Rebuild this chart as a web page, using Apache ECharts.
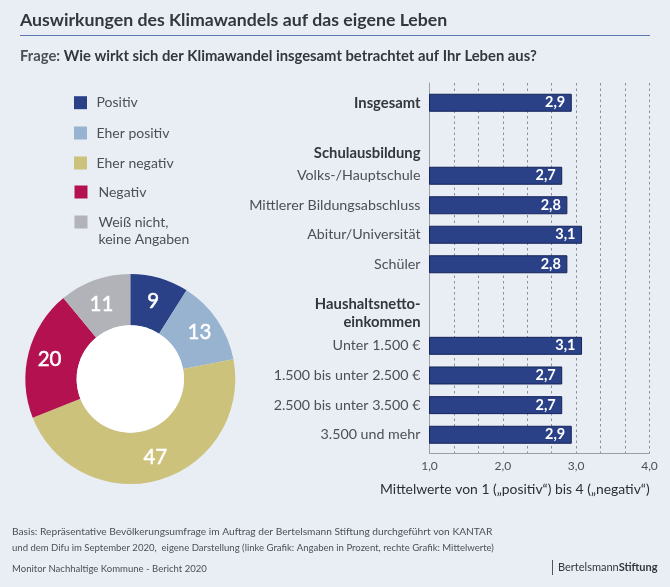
<!DOCTYPE html>
<html>
<head>
<meta charset="utf-8">
<title>Auswirkungen des Klimawandels</title>
<style>
html,body{margin:0;padding:0;background:#e9eef5}
#chart{width:670px;height:587px}
</style>
<script src="https://cdn.jsdelivr.net/npm/echarts@6/dist/echarts.min.js"></script>
</head>
<body>
<div id="chart"></div>
<script>
// Daten
var shareNames = ['Positiv', 'Eher positiv', 'Eher negativ', 'Negativ', 'Weiß nicht,\nkeine Angaben'];
var shareValues = [9, 13, 47, 20, 11];
var shareColors = ['#2a4087', '#97b3d0', '#cdc27c', '#b3114f', '#b1b3b8'];

var totalCats = ['Insgesamt'];
var totalLengths = [2.94];
var totalLabels = ['2,9'];

var schoolHead = 'Schulausbildung';
var schoolCats = ['Volks-/Hauptschule', 'Mittlerer Bildungsabschluss', 'Abitur/Universität', 'Schüler'];
// Balkenlaenge wie gezeichnet, Beschriftung wie gedruckt
var schoolLengths = [2.81, 2.88, 3.08, 2.88];
var schoolLabels = ['2,7', '2,8', '3,1', '2,8'];

var incomeHead = 'Haushaltsnetto-\neinkommen';
var incomeCats = ['Unter 1.500 €', '1.500 bis unter 2.500 €', '2.500 bis unter 3.500 €', '3.500 und mehr'];
var incomeLengths = [3.08, 2.81, 2.81, 2.94];
var incomeLabels = ['3,1', '2,7', '2,7', '2,9'];

var axisMin = 1, axisMax = 4, axisStep = 1 / 3;

var FONT = 'Lato, "Noto Sans", sans-serif';
var TEXT = '#4b5056';
var DARK = '#33373c';
var barLeft = 429.5, barWidth = 220;

var chart = echarts.init(document.getElementById('chart'));

function hiddenX(i) {
	return { gridIndex: i, type: 'value', min: axisMin, max: axisMax, show: false };
}
function catY(i, cats, bold) {
	return {
		gridIndex: i, type: 'category', inverse: true, data: cats,
		axisLine: { show: false }, axisTick: { show: false }, splitLine: { show: false },
		axisLabel: { color: bold ? DARK : TEXT, fontFamily: FONT, fontSize: bold ? 14.8 : 14.25, fontWeight: bold ? 'bold' : 'normal', margin: 9 }
	};
}
function bars(i, lengths, labels) {
	return {
		type: 'bar', xAxisIndex: i, yAxisIndex: i, data: lengths, barWidth: 18, silent: true,
		itemStyle: { color: '#2a4087', borderColor: '#16255a', borderWidth: 1 },
		label: {
			show: true, position: 'insideRight', distance: 6.5, color: '#fff', fontFamily: FONT,
			fontSize: 14.5, fontWeight: 'bold',
			formatter: function(p) { return labels[p.dataIndex]; }
		}
	};
}

// Legende links
var legendY = [102.7, 133, 163, 192, 222];
var legendX = [74, 74, 74, 74.5, 74.5];
var textX = [96.5, 96.5, 96.5, 98.5, 98.5];
var graphics = [];
shareNames.forEach(function(name, i) {
	graphics.push({ type: 'rect', shape: { x: legendX[i], y: legendY[i] - 6.5, width: 13, height: 13 }, style: { fill: shareColors[i] } });
	graphics.push({ type: 'text', x: textX[i], y: legendY[i] - 8.5, style: {
		text: name, fill: TEXT, font: '14px ' + FONT, lineHeight: 17, textVerticalAlign: 'top'
	} });
});

function addText(x, y, text, font, fill, align) {
	graphics.push({ type: 'text', x: x, y: y, style: { text: text, font: font, fill: fill, textAlign: align || 'left', textVerticalAlign: 'middle' } });
}
addText(420.5, 153, schoolHead, 'bold 14.8px ' + FONT, DARK, 'right');
graphics.push({ type: 'text', x: 420.5, y: 295.5, style: { text: incomeHead, font: 'bold 14.8px ' + FONT, fill: DARK, textAlign: 'right', lineHeight: 18 } });
addText(380, 490, 'Mittelwerte von 1 („positiv“) bis 4 („negativ“)', '13.9px ' + FONT, '#2b2f33');

// Kopf und Fuss
graphics.push({ type: 'rect', shape: { x: 20, y: 35, width: 630, height: 1 }, style: { fill: '#5c77ad' } });
addText(12, 532, 'Basis: Repräsentative Bevölkerungsumfrage im Auftrag der Bertelsmann Stiftung durchgeführt von KANTAR', '10.2px ' + FONT, TEXT);
addText(12, 548, 'und dem Difu im September 2020,  eigene Darstellung (linke Grafik: Angaben in Prozent, rechte Grafik: Mittelwerte)', '9.56px ' + FONT, TEXT);
addText(12, 569, 'Monitor Nachhaltige Kommune - Bericht 2020', '9.56px ' + FONT, TEXT);
graphics.push({ type: 'rect', shape: { x: 552, y: 560, width: 1, height: 15 }, style: { fill: '#555' } });
graphics.push({ type: 'text', x: 558, y: 567.5, style: {
	text: '{a|Bertelsmann}{b|Stiftung}', textVerticalAlign: 'middle',
	rich: { a: { font: '11px ' + FONT, fill: DARK }, b: { font: 'bold 11px ' + FONT, fill: DARK } }
} });

var pieLabelOffsets = [[0, 1], [1, 0], [2, -1], [-1, 1], [-1, 3]];

var option = {
	backgroundColor: '#e9eef5',
	animation: false,
	title: [{
		text: 'Auswirkungen des Klimawandels auf das eigene Leben',
		left: 15, top: 6.5,
		textStyle: { fontFamily: FONT, fontSize: 17.7, fontWeight: 'bold', color: DARK }
	}, {
		text: '{a|Frage: }{b|Wie wirkt sich der Klimawandel insgesamt betrachtet auf Ihr Leben aus?}',
		left: 15, top: 44,
		textStyle: { rich: {
			a: { fontFamily: FONT, fontSize: 14.8, color: TEXT },
			b: { fontFamily: FONT, fontSize: 14.8, fontWeight: 'bold', color: DARK }
		} }
	}],
	graphic: graphics,
	grid: [
		{ left: barLeft, width: barWidth, top: 83, height: 370 },
		{ left: barLeft, width: barWidth, top: 88, height: 29.5 },
		{ left: barLeft, width: barWidth, top: 161, height: 118 },
		{ left: barLeft, width: barWidth, top: 331, height: 118.6 }
	],
	xAxis: [{
		gridIndex: 0, type: 'value', min: axisMin, max: axisMax, interval: axisStep,
		axisLine: { show: true, lineStyle: { color: '#9a9ea5', width: 1 } },
		axisTick: { show: false },
		axisLabel: {
			color: TEXT, fontFamily: FONT, fontSize: 12, margin: 7,
			formatter: function(v) {
				return Math.abs(v - Math.round(v)) < 1e-6 ? Math.round(v) + ',0' : '';
			}
		},
		splitLine: { show: true, lineStyle: { color: '#8b8f96', type: [2.5, 3], width: 1 } }
	}, hiddenX(1), hiddenX(2), hiddenX(3)],
	yAxis: [{
		gridIndex: 0, type: 'category', data: [''],
		axisLine: { show: true, lineStyle: { color: '#9a9ea5', width: 1 } },
		axisTick: { show: false }, axisLabel: { show: false }
	}, catY(1, totalCats, true), catY(2, schoolCats), catY(3, incomeCats)],
	series: [
		bars(1, totalLengths, totalLabels),
		bars(2, schoolLengths, schoolLabels),
		bars(3, incomeLengths, incomeLabels),
		{
			type: 'pie', center: [130.3, 379], radius: [53.7, 105], startAngle: 90, silent: true,
			data: shareValues.map(function(v, i) {
				return { value: v, name: shareNames[i], itemStyle: { color: shareColors[i] }, label: { offset: pieLabelOffsets[i] } };
			}),
			label: { show: true, position: 'inside', formatter: '{c}', color: '#fff', fontFamily: FONT, fontSize: 20.5, fontWeight: 'normal', textBorderColor: '#fff', textBorderWidth: 0.5 },
			labelLine: { show: false }
		},
		{
			// weisses Loch in der Mitte
			type: 'pie', center: [130.3, 379], radius: [0, 53.7], silent: true,
			data: [{ value: 1, itemStyle: { color: '#fff' } }],
			label: { show: false }, labelLine: { show: false }
		}
	]
};
chart.setOption(option);
</script>
</body>
</html>
